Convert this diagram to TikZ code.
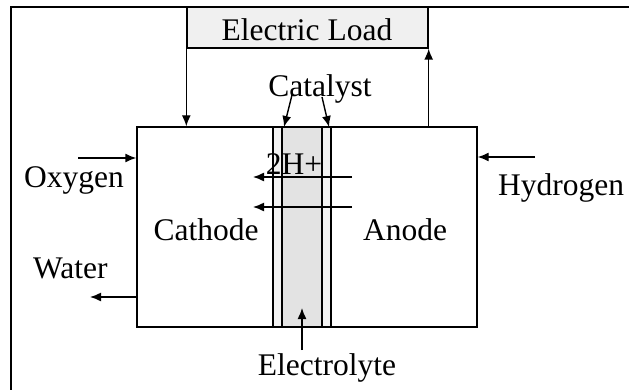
\documentclass[tikz,border=0pt]{standalone}
\usepackage{fontspec}
\setmainfont{Liberation Serif}
\usetikzlibrary{arrows.meta}
\begin{document}
\begin{tikzpicture}[x=1pt,y=-1pt,
  lbl/.style={inner sep=0pt,font=\fontsize{31.5}{36}\selectfont},
  box/.style={draw,line width=1.4pt,inner sep=0pt},
  arr/.style={line width=1.4pt,-{Latex[length=11pt,width=9pt]}},
  memb/.style={draw,line width=1.1pt,inner sep=0pt}]
\useasboundingbox (0,0) rectangle (631,390);
% frame
\draw[line width=1.4pt] (10,7) -- (629,7);
\draw[line width=1.4pt] (11,7) -- (11,390);
% load box
\node[box,fill=gray!12,minimum width=241pt,minimum height=41pt] (load) at (307.5,27.5) {};
\node[lbl,anchor=base] (loadtxt) at (307,41) {Electric Load};
% cell
\node[box,minimum width=340pt,minimum height=200pt] (cell) at (307,227) {};
\node[memb,fill=gray!10,minimum width=58pt,minimum height=200pt] (mout) at (302,227) {};
\node[memb,fill=gray!22,minimum width=40pt,minimum height=200pt] (min) at (302,227) {};
% wires
\draw[arr] (load.south west) -- (load.south west |- cell.north);
\draw[arr] (load.south east |- cell.north) -- (load.south east);
% labels
\node[lbl,anchor=base] (cat) at (320,97) {Catalyst};
\coordinate (c1) at (292,95);
\coordinate (c2) at (322,97);
\coordinate (e1) at (284,127);
\coordinate (e2) at (329,127);
\draw[arr] (c1) -- (e1);
\draw[arr] (c2) -- (e2);
\node[lbl,anchor=base west] (oxy) at (24,187) {Oxygen};
\node[lbl,anchor=base west] (wat) at (33,278) {Water};
\node[lbl,anchor=base] (cath) at (206,240) {Cathode};
\node[lbl,anchor=base] (ano) at (405,240) {Anode};
\node[lbl,anchor=base west] (hyd) at (498,195) {Hydrogen};
\node[lbl,anchor=base] (hp) at (294,175) {2H+};
\node[lbl,anchor=base] (ely) at (327,375) {Electrolyte};
% flow arrows
\coordinate (o1) at (78,158);
\draw[arr] (o1) -- (o1 -| cell.west);
\coordinate (w1) at (90,297);
\draw[arr] (w1 -| cell.west) -- (w1);
\coordinate (h1) at (535,157);
\draw[arr] (h1) -- (h1 -| cell.east);
\coordinate (p1) at (352,177);
\coordinate (p2) at (253,177);
\coordinate (p3) at (352,207);
\coordinate (p4) at (253,207);
\draw[arr] (p1) -- (p2);
\draw[arr] (p3) -- (p4);
\coordinate (l1) at (302,350);
\coordinate (l2) at (302,308);
\draw[arr] (l1) -- (l2);
\end{tikzpicture}
\end{document}
